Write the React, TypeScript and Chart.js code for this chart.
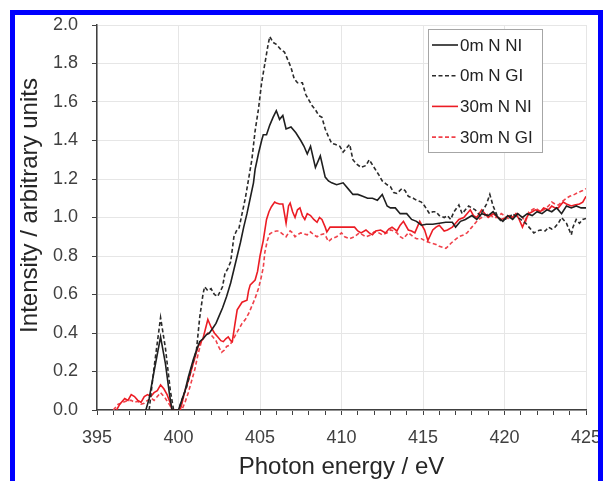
import React, { useEffect, useRef } from "react";
import { Chart, registerables } from "chart.js";

Chart.register(...registerables);

// ---- Data ----
const seriesLabels = ["0m N NI", "0m N GI", "30m N NI", "30m N GI"];
const xAxisTitle = "Photon energy / eV";
const yAxisTitle = "Intensity / arbitrary units";

const energy0mNI = [398.0, 398.2, 398.5, 398.9, 399.2, 399.45, 399.6, 400.0, 400.2, 400.4, 400.6, 400.9, 401.1, 401.3, 401.5, 401.7, 401.9, 402.1, 402.3, 402.5, 402.7, 402.95, 403.2, 403.4, 403.6, 403.8, 404.0, 404.2, 404.4, 404.6, 404.7, 404.9, 405.1, 405.2, 405.4, 405.6, 405.8, 406.0, 406.2, 406.4, 406.6, 406.9, 407.2, 407.5, 407.7, 407.9, 408.1, 408.4, 408.7, 409.0, 409.2, 409.4, 409.7, 410.1, 410.4, 410.7, 411.0, 411.3, 411.6, 411.9, 412.2, 412.5, 412.8, 413.0, 413.3, 413.6, 414.0, 414.3, 414.6, 414.9, 415.2, 415.6, 416.0, 416.4, 416.8, 417.0, 417.3, 417.6, 418.0, 418.3, 418.6, 419.0, 419.3, 419.6, 419.9, 420.2, 420.5, 420.8, 421.1, 421.4, 421.7, 422.0, 422.3, 422.6, 422.9, 423.2, 423.5, 423.8, 424.1, 424.4, 424.7, 425.0];
const intensity0mNI = [0.0, 0.06, 0.2, 0.38, 0.24, 0.08, 0.0, 0.0, 0.05, 0.1, 0.17, 0.26, 0.31, 0.355, 0.37, 0.39, 0.4, 0.425, 0.45, 0.49, 0.53, 0.59, 0.66, 0.73, 0.8, 0.87, 0.95, 1.02, 1.1, 1.18, 1.25, 1.33, 1.4, 1.43, 1.43, 1.48, 1.52, 1.555, 1.51, 1.53, 1.46, 1.47, 1.44, 1.4, 1.37, 1.33, 1.37, 1.26, 1.32, 1.21, 1.19, 1.18, 1.17, 1.18, 1.15, 1.12, 1.12, 1.11, 1.1, 1.1, 1.09, 1.12, 1.06, 1.05, 1.05, 1.02, 1.02, 0.99, 0.98, 0.96, 0.965, 0.965, 0.97, 0.975, 0.975, 0.95, 0.98, 0.99, 1.01, 0.99, 1.02, 1.01, 1.03, 1.0, 0.98, 1.01, 0.99, 1.02, 1.0, 1.02, 1.01, 1.03, 1.02, 1.04, 1.03, 1.05, 1.02, 1.06, 1.05, 1.06, 1.05, 1.05];

const energy0mGI = [398.2, 398.5, 398.9, 399.2, 399.5, 399.7, 400.0, 400.2, 400.5, 400.8, 401.1, 401.3, 401.5, 401.6, 401.8, 402.0, 402.2, 402.4, 402.55, 402.7, 402.85, 403.0, 403.2, 403.4, 403.55, 403.7, 403.9, 404.1, 404.3, 404.5, 404.7, 404.9, 405.1, 405.3, 405.5, 405.6, 405.8, 406.0, 406.3, 406.5, 406.7, 406.9, 407.1, 407.3, 407.6, 407.8, 408.0, 408.2, 408.4, 408.6, 408.8, 409.0, 409.2, 409.4, 409.6, 409.9, 410.1, 410.3, 410.5, 410.7, 410.9, 411.2, 411.5, 411.7, 412.0, 412.3, 412.5, 412.8, 413.0, 413.2, 413.4, 413.7, 413.9, 414.1, 414.4, 414.6, 414.9, 415.1, 415.4, 415.6, 415.8, 416.0, 416.3, 416.5, 416.7, 416.9, 417.2, 417.4, 417.6, 417.8, 418.0, 418.2, 418.5, 418.7, 418.9, 419.1, 419.3, 419.6, 419.8, 420.0, 420.3, 420.5, 420.8, 421.0, 421.3, 421.5, 421.8, 422.0, 422.2, 422.5, 422.7, 422.9, 423.1, 423.3, 423.5, 423.7, 423.8, 424.0, 424.1, 424.2, 424.4, 424.6, 424.8, 425.0];
const intensity0mGI = [0.0, 0.22, 0.48, 0.32, 0.1, 0.0, 0.0, 0.05, 0.12, 0.22, 0.31, 0.48, 0.6, 0.64, 0.62, 0.63, 0.6, 0.59, 0.615, 0.64, 0.71, 0.73, 0.77, 0.9, 0.93, 0.94, 1.02, 1.1, 1.2, 1.3, 1.45, 1.56, 1.7, 1.8, 1.9, 1.94, 1.91, 1.9, 1.87, 1.86, 1.82, 1.78, 1.72, 1.7, 1.7, 1.64, 1.61, 1.58, 1.56, 1.53, 1.52, 1.46, 1.42, 1.385, 1.38, 1.37, 1.34, 1.36, 1.38, 1.3, 1.28, 1.26, 1.27, 1.3, 1.26, 1.22, 1.19, 1.17, 1.16, 1.13, 1.125, 1.15, 1.14, 1.11, 1.1, 1.09, 1.08, 1.06, 1.02, 1.03, 1.03, 1.01, 1.0, 1.01, 0.99, 1.03, 1.065, 1.02, 1.04, 1.06, 1.05, 1.04, 1.01, 1.04, 1.07, 1.12, 1.06, 1.0, 0.98, 0.99, 1.0, 1.02, 1.0, 0.99, 0.97, 0.95, 0.92, 0.93, 0.935, 0.93, 0.95, 0.94, 0.95, 0.97, 1.0, 0.98, 0.97, 0.93, 0.91, 0.95, 0.99, 0.97, 0.99, 0.995];

const energy30mNI = [396.2, 396.4, 396.7, 396.9, 397.1, 397.3, 397.5, 397.7, 397.9, 398.1, 398.3, 398.5, 398.7, 398.9, 399.1, 399.3, 399.5, 399.6, 400.1, 400.2, 400.4, 400.6, 400.8, 401.0, 401.2, 401.5, 401.8, 402.0, 402.2, 402.4, 402.6, 402.75, 402.9, 403.05, 403.2, 403.3, 403.45, 403.6, 403.9, 404.2, 404.3, 404.4, 404.7, 404.85, 405.0, 405.2, 405.4, 405.55, 405.7, 405.9, 406.0, 406.2, 406.4, 406.5, 406.6, 406.75, 406.85, 407.0, 407.15, 407.3, 407.45, 407.6, 407.75, 407.9, 408.1, 408.3, 408.5, 408.65, 408.8, 409.0, 409.1, 409.3, 409.5, 409.9, 410.2, 410.5, 410.8, 411.0, 411.2, 411.5, 411.7, 411.9, 412.1, 412.4, 412.7, 412.9, 413.1, 413.4, 413.6, 413.8, 414.1, 414.3, 414.5, 414.8, 415.1, 415.3, 415.6, 415.8, 416.0, 416.3, 416.5, 416.8, 417.0, 417.2, 417.5, 417.7, 417.9, 418.1, 418.3, 418.6, 418.8, 419.0, 419.3, 419.6, 419.8, 420.1, 420.3, 420.5, 420.7, 420.9, 421.1, 421.3, 421.5, 421.7, 421.9, 422.2, 422.4, 422.7, 422.9, 423.1, 423.3, 423.6, 423.8, 424.1, 424.3, 424.6, 424.8, 425.0];
const intensity30mNI = [0.0, 0.03, 0.06, 0.05, 0.08, 0.07, 0.05, 0.04, 0.07, 0.08, 0.07, 0.09, 0.1, 0.13, 0.11, 0.08, 0.035, 0.0, 0.0, 0.03, 0.1, 0.15, 0.21, 0.27, 0.33, 0.37, 0.47, 0.43, 0.4, 0.38, 0.36, 0.355, 0.37, 0.38, 0.36, 0.355, 0.44, 0.52, 0.56, 0.57, 0.62, 0.65, 0.675, 0.72, 0.8, 0.88, 0.99, 1.03, 1.056, 1.08, 1.075, 1.07, 1.07, 1.02, 0.97, 1.06, 1.075, 1.03, 1.0, 1.04, 1.05, 1.01, 0.99, 1.02, 1.01, 0.99, 0.975, 1.0, 0.99, 0.95, 0.925, 0.95, 0.95, 0.95, 0.95, 0.95, 0.95, 0.93, 0.92, 0.935, 0.92, 0.91, 0.93, 0.935, 0.92, 0.94, 0.95, 0.93, 0.96, 0.98, 0.935, 0.93, 0.92, 0.98, 0.935, 0.88, 0.935, 0.95, 0.96, 0.93, 0.935, 0.95, 0.97, 0.99, 1.0, 1.02, 1.04, 1.01, 1.0, 1.04, 1.02, 1.0, 1.02, 1.0, 0.99, 1.0, 1.01, 1.0, 1.02, 0.99, 0.95, 0.99, 1.02, 1.03, 1.04, 1.03, 1.05, 1.04, 1.06, 1.05, 1.05, 1.08, 1.07, 1.06, 1.065, 1.07, 1.08, 1.11];

const energy30mGI = [396.0, 396.3, 396.6, 396.9, 397.1, 397.3, 397.5, 397.7, 397.9, 398.1, 398.35, 398.5, 398.7, 398.9, 399.2, 399.5, 399.6, 400.2, 400.4, 400.6, 400.8, 401.0, 401.2, 401.4, 401.6, 401.8, 402.0, 402.1, 402.3, 402.45, 402.65, 402.8, 402.95, 403.1, 403.25, 403.5, 403.7, 403.9, 404.1, 404.3, 404.5, 404.7, 404.9, 405.05, 405.2, 405.3, 405.45, 405.6, 405.8, 406.0, 406.15, 406.3, 406.45, 406.6, 406.75, 406.85, 407.0, 407.15, 407.3, 407.5, 407.7, 407.9, 408.1, 408.3, 408.5, 408.7, 408.9, 409.05, 409.2, 409.4, 409.7, 410.0, 410.2, 410.5, 410.8, 411.1, 411.3, 411.5, 411.8, 412.0, 412.3, 412.5, 412.8, 413.0, 413.2, 413.4, 413.6, 413.8, 414.0, 414.1, 414.4, 414.6, 414.9, 415.1, 415.4, 415.6, 415.8, 416.0, 416.2, 416.4, 416.6, 416.7, 416.9, 417.2, 417.5, 417.7, 418.0, 418.2, 418.4, 418.6, 418.8, 419.1, 419.3, 419.6, 419.8, 420.0, 420.3, 420.5, 420.8, 421.0, 421.3, 421.5, 421.7, 421.9, 422.2, 422.4, 422.7, 422.9, 423.1, 423.3, 423.5, 423.8, 424.0, 424.3, 424.5, 424.8, 425.0];
const intensity30mGI = [0.0, 0.03, 0.04, 0.05, 0.05, 0.04, 0.045, 0.03, 0.035, 0.05, 0.06, 0.05, 0.07, 0.09, 0.06, 0.02, 0.0, 0.0, 0.04, 0.09, 0.15, 0.21, 0.29, 0.355, 0.38, 0.4, 0.39, 0.38, 0.36, 0.33, 0.3, 0.31, 0.33, 0.335, 0.35, 0.39, 0.42, 0.45, 0.47, 0.5, 0.54, 0.58, 0.63, 0.68, 0.74, 0.82, 0.88, 0.915, 0.925, 0.93, 0.93, 0.92, 0.91, 0.9, 0.92, 0.93, 0.92, 0.9, 0.91, 0.92, 0.915, 0.91, 0.925, 0.91, 0.9, 0.91, 0.915, 0.9, 0.875, 0.89, 0.9, 0.92, 0.9, 0.89, 0.9, 0.92, 0.91, 0.9, 0.91, 0.925, 0.92, 0.91, 0.92, 0.935, 0.93, 0.92, 0.9, 0.89, 0.91, 0.92, 0.9, 0.89, 0.89, 0.88, 0.87, 0.865, 0.86, 0.85, 0.845, 0.84, 0.855, 0.865, 0.88, 0.9, 0.91, 0.92, 0.95, 0.97, 0.99, 1.0, 1.01, 1.02, 1.0, 1.0, 1.02, 1.01, 0.99, 1.0, 1.02, 1.01, 0.98, 1.03, 1.04, 1.05, 1.03, 1.04, 1.06, 1.08, 1.07, 1.065, 1.08, 1.1, 1.11, 1.12, 1.13, 1.14, 1.15];

const xTickLabels = [395, 400, 405, 410, 415, 420, 425];
const yTickLabels = [0.0, 0.2, 0.4, 0.6, 0.8, 1.0, 1.2, 1.4, 1.6, 1.8, 2.0];

const toPoints = (xs: number[], ys: number[]) => xs.map((x, i) => ({ x, y: ys[i] }));

const FONT = '"Liberation Sans", Arial, sans-serif';

const boxLegend = {
  id: "boxLegend",
  afterDraw(chart: any) {
    const { ctx, chartArea } = chart;
    const left = chartArea.right - 158;
    const top = chartArea.top + 4;
    const w = 114;
    const h = 123;
    ctx.save();
    ctx.fillStyle = "#ffffff";
    ctx.fillRect(left, top, w, h);
    ctx.strokeStyle = "#a6a6a6";
    ctx.lineWidth = 1;
    ctx.strokeRect(left + 0.5, top + 0.5, w, h);
    chart.data.datasets.forEach((ds: any, i: number) => {
      const y = top + 16 + i * 30.7;
      ctx.beginPath();
      ctx.setLineDash(ds.borderDash || []);
      ctx.strokeStyle = ds.borderColor;
      ctx.lineWidth = ds.borderWidth;
      ctx.moveTo(left + 4, y);
      ctx.lineTo(left + 30, y);
      ctx.stroke();
      ctx.setLineDash([]);
      ctx.fillStyle = "#222222";
      ctx.font = `17px ${FONT}`;
      ctx.textBaseline = "middle";
      ctx.textAlign = "left";
      ctx.fillText(ds.label, left + 32, y + 1);
    });
    ctx.restore();
  },
};

// y-axis title drawn slightly above the centre of the axis, as in the reference
const yTitlePlugin = {
  id: "yTitle",
  afterDraw(chart: any) {
    const { ctx, chartArea } = chart;
    ctx.save();
    ctx.translate(15, (chartArea.top + chartArea.bottom) / 2 - 12);
    ctx.rotate(-Math.PI / 2);
    ctx.fillStyle = "#262626";
    ctx.font = `24px ${FONT}`;
    ctx.textAlign = "center";
    ctx.textBaseline = "middle";
    ctx.fillText(yAxisTitle, 0, 0);
    ctx.restore();
  },
};

export default function App() {
  const canvasRef = useRef<HTMLCanvasElement | null>(null);

  useEffect(() => {
    if (!canvasRef.current) return;
    const chart = new Chart(canvasRef.current, {
      type: "line",
      data: {
        datasets: [
          {
            label: seriesLabels[0],
            data: toPoints(energy0mNI, intensity0mNI),
            borderColor: "#1f1f1f",
            borderWidth: 1.6,
          },
          {
            label: seriesLabels[1],
            data: toPoints(energy0mGI, intensity0mGI),
            borderColor: "#2b2b2b",
            borderWidth: 1.6,
            borderDash: [4, 2.5],
          },
          {
            label: seriesLabels[2],
            data: toPoints(energy30mNI, intensity30mNI),
            borderColor: "#ec1c24",
            borderWidth: 1.6,
          },
          {
            label: seriesLabels[3],
            data: toPoints(energy30mGI, intensity30mGI),
            borderColor: "#f0414a",
            borderWidth: 1.6,
            borderDash: [4, 2.5],
          },
        ] as any,
      },
      options: {
        animation: false,
        responsive: false,
        maintainAspectRatio: false,
        layout: { padding: { left: 0, right: 12, top: 10, bottom: 0 } },
        elements: { point: { radius: 0 }, line: { tension: 0 } },
        plugins: { legend: { display: false }, tooltip: { enabled: false } },
        scales: {
          x: {
            type: "linear",
            min: 395,
            max: 425,
            afterFit: (s: any) => {
              s.height = 71;
              s.paddingLeft = 0;
              s.paddingRight = 0;
            },
            ticks: {
              stepSize: 1,
              autoSkip: false,
              maxRotation: 0,
              padding: 12,
              color: "#404040",
              font: { family: FONT, size: 18 },
              callback: (v: any) => (xTickLabels.includes(Number(v)) ? String(v) : ""),
            },
            grid: {
              color: (ctx: any) =>
                ctx.tick && xTickLabels.includes(ctx.tick.value) ? "#e6e6e6" : "rgba(0,0,0,0)",
              tickColor: "#404040",
              tickLength: 5,
              lineWidth: 1,
            },
            border: { color: "#404040", width: 1.5 },
            title: {
              display: true,
              text: xAxisTitle,
              color: "#262626",
              font: { family: FONT, size: 24, lineHeight: 1.1 },
              padding: { top: 0, bottom: 0 },
            },
          },
          y: {
            type: "linear",
            min: 0,
            max: 2,
            afterFit: (s: any) => {
              s.width = 82;
              s.paddingTop = 0;
              s.paddingBottom = 0;
            },
            ticks: {
              stepSize: 0.2,
              padding: 14,
              color: "#404040",
              font: { family: FONT, size: 18 },
              callback: (v: any) => {
                const n = Number(v);
                const m = yTickLabels.find((t) => Math.abs(t - n) < 1e-6);
                return m === undefined ? "" : m.toFixed(1);
              },
            },
            grid: {
              color: "#e6e6e6",
              tickColor: "#404040",
              tickLength: 5,
              lineWidth: 1,
            },
            border: { color: "#404040", width: 1.5 },
            title: { display: false },
          },
        },
      } as any,
      plugins: [boxLegend, yTitlePlugin],
    });
    return () => chart.destroy();
  }, []);

  return (
    <div
      style={{
        position: "fixed",
        left: 0,
        top: 0,
        width: 604,
        height: 481,
        overflow: "hidden",
        background: "#ffffff",
      }}
    >
      <div
        style={{
          position: "absolute",
          left: 10,
          top: 10,
          width: 593,
          height: 490,
          boxSizing: "border-box",
          borderTop: "5px solid #0000ff",
          borderLeft: "5px solid #0000ff",
          borderRight: "5px solid #0000ff",
        }}
      />
      <canvas
        ref={canvasRef}
        width={583}
        height={466}
        style={{ position: "absolute", left: 15, top: 15, width: 583, height: 466 }}
      />
    </div>
  );
}
